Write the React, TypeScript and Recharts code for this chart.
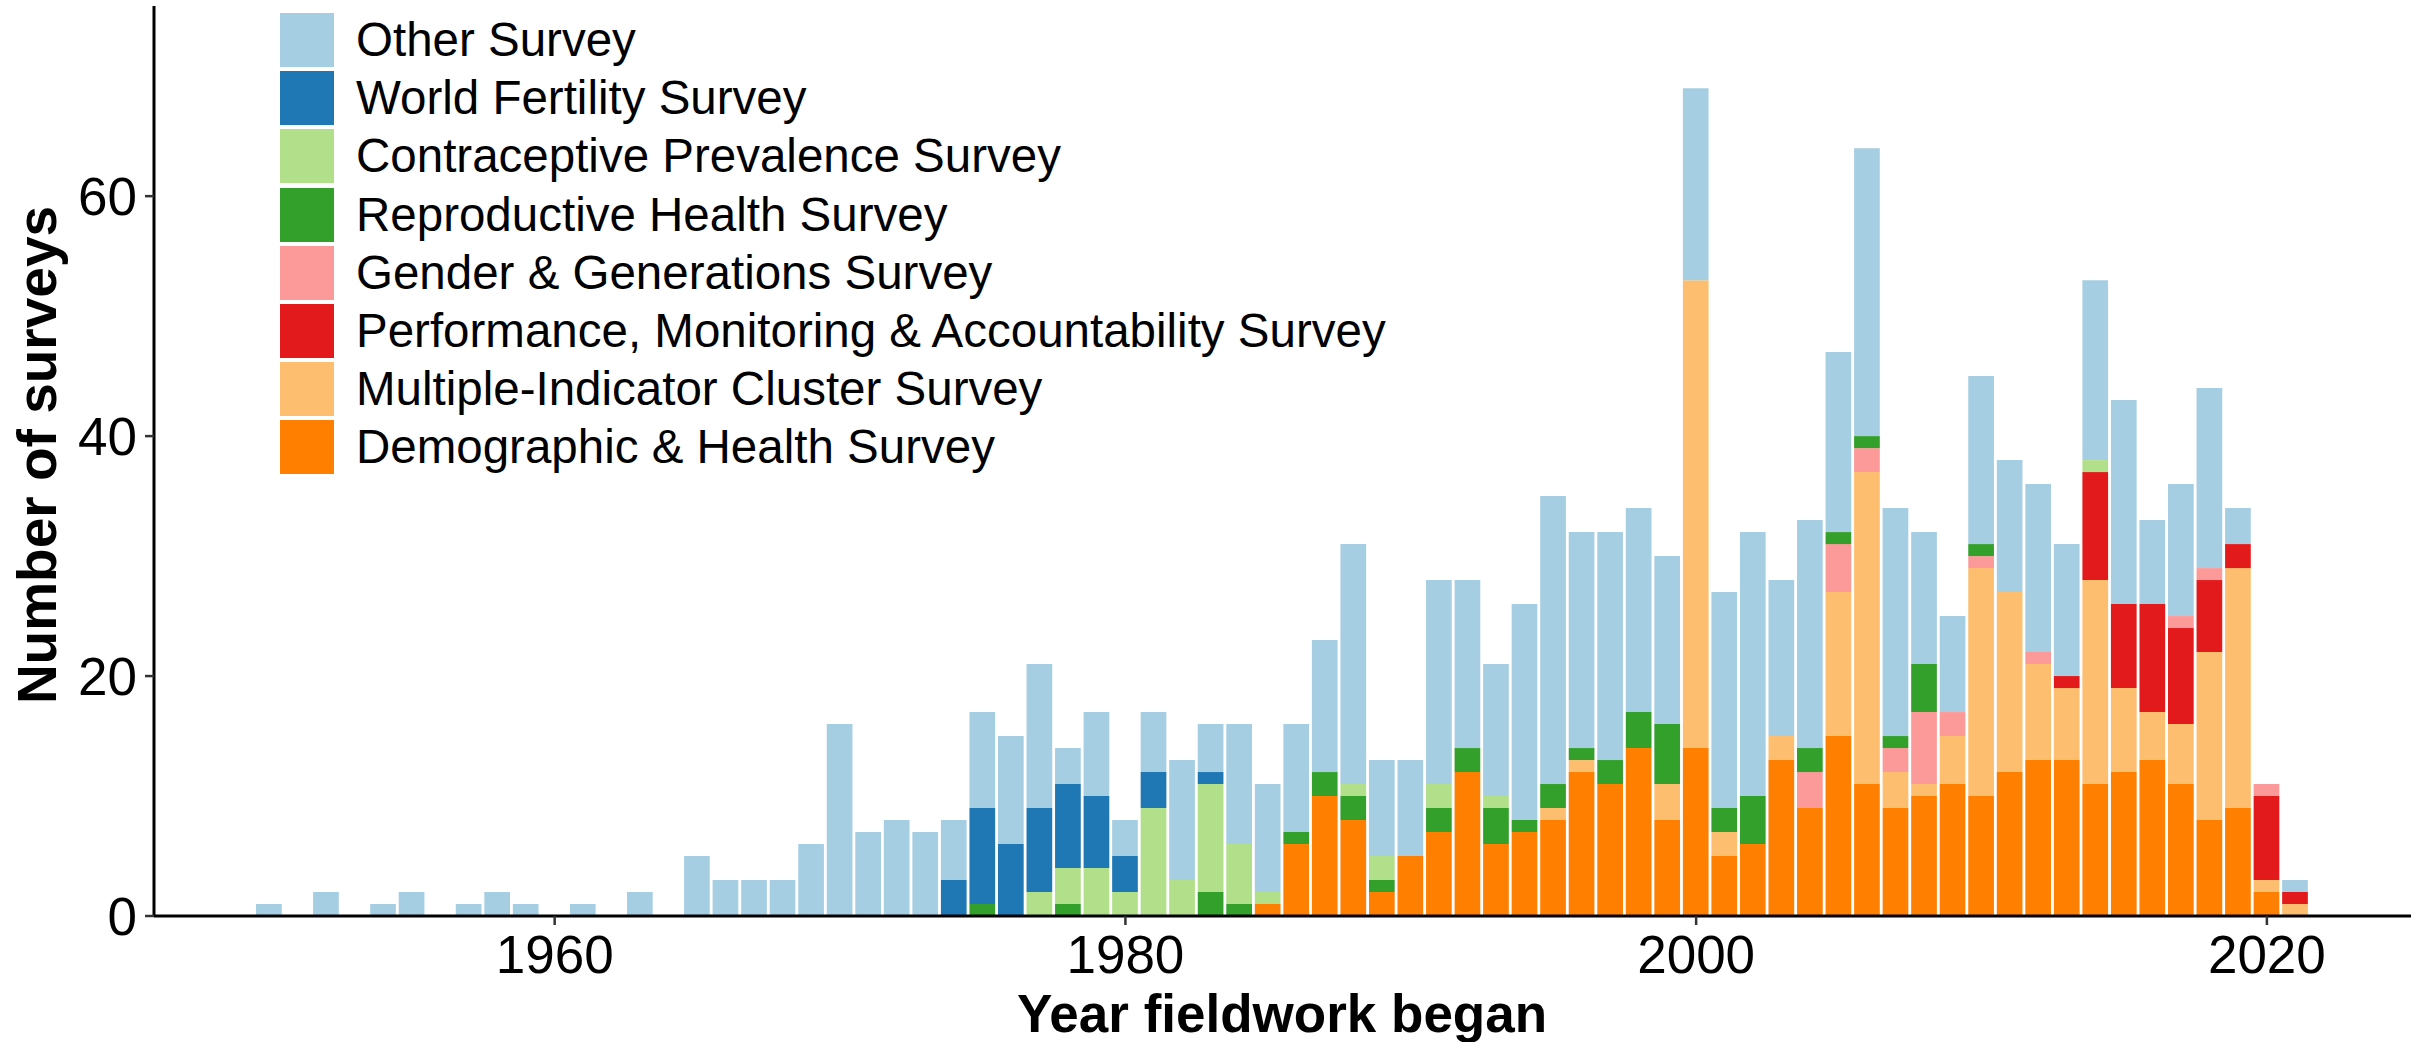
import React from 'react';
import { BarChart, Bar, XAxis, YAxis, Legend, Label } from 'recharts';

// Year in which fieldwork began (one bar per year)
const years = [
  1950, 1951, 1952, 1953, 1954, 1955, 1956, 1957, 1958, 1959,
  1960, 1961, 1962, 1963, 1964, 1965, 1966, 1967, 1968, 1969,
  1970, 1971, 1972, 1973, 1974, 1975, 1976, 1977, 1978, 1979,
  1980, 1981, 1982, 1983, 1984, 1985, 1986, 1987, 1988, 1989,
  1990, 1991, 1992, 1993, 1994, 1995, 1996, 1997, 1998, 1999,
  2000, 2001, 2002, 2003, 2004, 2005, 2006, 2007, 2008, 2009,
  2010, 2011, 2012, 2013, 2014, 2015, 2016, 2017, 2018, 2019,
  2020, 2021,
];

// Number of surveys per programme, aligned with `years`
const otherSurvey = [
  1, 0, 2, 0, 1, 2, 0, 1, 2, 1,
  0, 1, 0, 2, 0, 5, 3, 3, 3, 6,
  16, 7, 8, 7, 5, 8, 9, 12, 3, 7,
  3, 5, 10, 4, 10, 9, 9, 11, 20, 8,
  8, 17, 14, 11, 18, 24, 18, 19, 17, 14,
  16, 18, 22, 13, 19, 15, 24, 19, 11, 8,
  14, 11, 14, 11, 15, 17, 7, 11, 15, 3,
  0, 1,
];

const worldFertility = [
  0, 0, 0, 0, 0, 0, 0, 0, 0, 0,
  0, 0, 0, 0, 0, 0, 0, 0, 0, 0,
  0, 0, 0, 0, 3, 8, 6, 7, 7, 6,
  3, 3, 0, 1, 0, 0, 0, 0, 0, 0,
  0, 0, 0, 0, 0, 0, 0, 0, 0, 0,
  0, 0, 0, 0, 0, 0, 0, 0, 0, 0,
  0, 0, 0, 0, 0, 0, 0, 0, 0, 0,
  0, 0,
];

const contraceptivePrevalence = [
  0, 0, 0, 0, 0, 0, 0, 0, 0, 0,
  0, 0, 0, 0, 0, 0, 0, 0, 0, 0,
  0, 0, 0, 0, 0, 0, 0, 2, 3, 4,
  2, 9, 3, 9, 5, 1, 0, 0, 1, 2,
  0, 2, 0, 1, 0, 0, 0, 0, 0, 0,
  0, 0, 0, 0, 0, 0, 0, 0, 0, 0,
  0, 0, 0, 0, 1, 0, 0, 0, 0, 0,
  0, 0,
];

const reproductiveHealth = [
  0, 0, 0, 0, 0, 0, 0, 0, 0, 0,
  0, 0, 0, 0, 0, 0, 0, 0, 0, 0,
  0, 0, 0, 0, 0, 1, 0, 0, 1, 0,
  0, 0, 0, 2, 1, 0, 1, 2, 2, 1,
  0, 2, 2, 3, 1, 2, 1, 2, 3, 5,
  0, 2, 4, 0, 2, 1, 1, 1, 4, 0,
  1, 0, 0, 0, 0, 0, 0, 0, 0, 0,
  0, 0,
];

const genderGenerations = [
  0, 0, 0, 0, 0, 0, 0, 0, 0, 0,
  0, 0, 0, 0, 0, 0, 0, 0, 0, 0,
  0, 0, 0, 0, 0, 0, 0, 0, 0, 0,
  0, 0, 0, 0, 0, 0, 0, 0, 0, 0,
  0, 0, 0, 0, 0, 0, 0, 0, 0, 0,
  0, 0, 0, 0, 3, 4, 2, 2, 6, 2,
  1, 0, 1, 0, 0, 0, 0, 1, 1, 0,
  1, 0,
];

const performanceMonitoring = [
  0, 0, 0, 0, 0, 0, 0, 0, 0, 0,
  0, 0, 0, 0, 0, 0, 0, 0, 0, 0,
  0, 0, 0, 0, 0, 0, 0, 0, 0, 0,
  0, 0, 0, 0, 0, 0, 0, 0, 0, 0,
  0, 0, 0, 0, 0, 0, 0, 0, 0, 0,
  0, 0, 0, 0, 0, 0, 0, 0, 0, 0,
  0, 0, 0, 1, 9, 7, 9, 8, 6, 2,
  7, 1,
];

const multipleIndicator = [
  0, 0, 0, 0, 0, 0, 0, 0, 0, 0,
  0, 0, 0, 0, 0, 0, 0, 0, 0, 0,
  0, 0, 0, 0, 0, 0, 0, 0, 0, 0,
  0, 0, 0, 0, 0, 0, 0, 0, 0, 0,
  0, 0, 0, 0, 0, 1, 1, 0, 0, 3,
  39, 2, 0, 2, 0, 12, 26, 3, 1, 4,
  19, 15, 8, 6, 17, 7, 4, 5, 14, 20,
  1, 1,
];

const demographicHealth = [
  0, 0, 0, 0, 0, 0, 0, 0, 0, 0,
  0, 0, 0, 0, 0, 0, 0, 0, 0, 0,
  0, 0, 0, 0, 0, 0, 0, 0, 0, 0,
  0, 0, 0, 0, 0, 1, 6, 10, 8, 2,
  5, 7, 12, 6, 7, 8, 12, 11, 14, 8,
  14, 5, 6, 13, 9, 15, 11, 9, 10, 11,
  10, 12, 13, 13, 11, 12, 13, 11, 8, 9,
  2, 0,
];

const xTicks = [1960, 1980, 2000, 2020];
const yTicks = [0, 20, 40, 60];

// Stack order, bottom to top
const series = [
  { key: 'dhs', name: 'Demographic & Health Survey', color: '#FF7F00', values: demographicHealth },
  { key: 'mics', name: 'Multiple-Indicator Cluster Survey', color: '#FDBF6F', values: multipleIndicator },
  { key: 'pma', name: 'Performance, Monitoring & Accountability Survey', color: '#E31A1C', values: performanceMonitoring },
  { key: 'ggs', name: 'Gender & Generations Survey', color: '#FB9A99', values: genderGenerations },
  { key: 'rhs', name: 'Reproductive Health Survey', color: '#33A02C', values: reproductiveHealth },
  { key: 'cps', name: 'Contraceptive Prevalence Survey', color: '#B2DF8A', values: contraceptivePrevalence },
  { key: 'wfs', name: 'World Fertility Survey', color: '#1F78B4', values: worldFertility },
  { key: 'other', name: 'Other Survey', color: '#A6CEE3', values: otherSurvey },
];

const data = years.map((year, i) => {
  const row: Record<string, number> = { year };
  series.forEach((s) => {
    row[s.key] = s.values[i];
  });
  return row;
});

const FONT = '"Liberation Sans", Arial, Helvetica, sans-serif';

const LegendList = () => (
  <div style={{ fontFamily: FONT }}>
    {[...series].reverse().map((s) => (
      <div
        key={s.key}
        style={{ display: 'flex', alignItems: 'center', height: 58.2 }}
      >
        <div style={{ width: 54, height: 54, background: s.color, flex: 'none' }} />
        <span
          style={{
            marginLeft: 22,
            fontSize: 47.5,
            color: '#000',
            whiteSpace: 'nowrap',
            lineHeight: '58px',
          }}
        >
          {s.name}
        </span>
      </div>
    ))}
  </div>
);

const XTitle = () => (
  <text
    x={1282}
    y={1032}
    textAnchor="middle"
    fontFamily={FONT}
    fontSize={53}
    fontWeight="bold"
    fill="#000"
  >
    Year fieldwork began
  </text>
);

const YTitle = () => (
  <text
    x={56}
    y={455}
    transform="rotate(-90 56 455)"
    textAnchor="middle"
    fontFamily={FONT}
    fontSize={55}
    fontWeight="bold"
    fill="#000"
  >
    Number of surveys
  </text>
);

export default function App() {
  return (
    <div style={{ position: 'absolute', left: 0, top: 0, width: 2412, height: 1042, background: '#fff' }}>
      <BarChart
        width={2412}
        height={1042}
        data={data}
        margin={{ top: 6, right: 1, bottom: 0, left: 0 }}
        barSize={25.7}
      >
        <XAxis
          dataKey="year"
          type="number"
          domain={[1945.96, 2025.05]}
          allowDataOverflow
          ticks={xTicks}
          height={126}
          axisLine={{ stroke: '#000', strokeWidth: 3 }}
          tickLine={{ stroke: '#333', strokeWidth: 2.5 }}
          tickSize={9}
          tickMargin={10}
          tick={{ fill: '#000', fontSize: 53, fontFamily: FONT }}
        >
          <Label content={XTitle} />
        </XAxis>
        <YAxis
          type="number"
          domain={[0, 75.85]}
          allowDataOverflow
          ticks={yTicks}
          width={154}
          axisLine={{ stroke: '#000', strokeWidth: 3 }}
          tickLine={{ stroke: '#333', strokeWidth: 2.5 }}
          tickSize={9}
          tickMargin={8}
          tick={{ fill: '#000', fontSize: 53, fontFamily: FONT }}
        >
          <Label content={YTitle} />
        </YAxis>
        <Legend
          layout="horizontal"
          verticalAlign="middle"
          align="center"
          content={LegendList}
          wrapperStyle={{ left: 280, top: 11, width: 1000, height: 470 }}
        />
        {series.map((s) => (
          <Bar
            key={s.key}
            dataKey={s.key}
            name={s.name}
            stackId="surveys"
            fill={s.color}
            isAnimationActive={false}
          />
        ))}
      </BarChart>
    </div>
  );
}
